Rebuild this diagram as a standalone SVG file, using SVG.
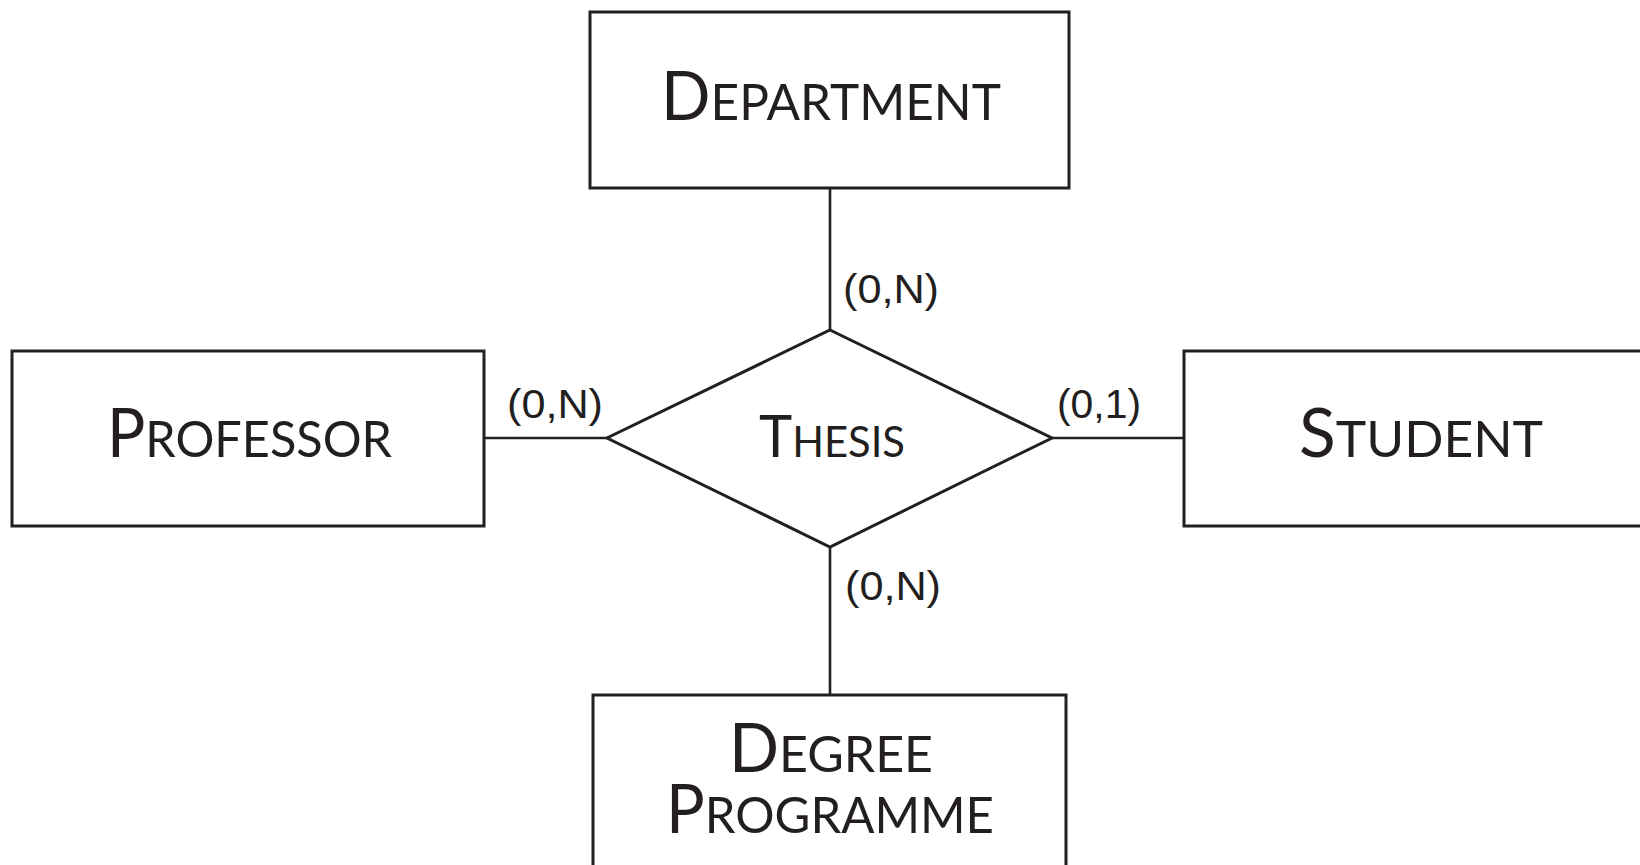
<svg xmlns="http://www.w3.org/2000/svg" width="1640" height="865" viewBox="0 0 1640 865">
<style>
.ent{fill:#fff;stroke:#231f20;stroke-width:3}
.rel{fill:#fff;stroke:#231f20;stroke-width:3;stroke-linejoin:miter}
.ln{stroke:#231f20;stroke-width:2.6;fill:none}
.t{font-family:Lato,"Liberation Sans",sans-serif;fill:#231f20}
.big{font-size:67px}
.sm{font-size:51px}
.tbig{font-size:58px}
.tsm{font-size:43px}
.card{font-family:"Liberation Sans",Arial,sans-serif;font-size:40px;fill:#231f20}
</style>
<rect width="1640" height="865" fill="#fff"/>
<g id="connectors">
<line class="ln" x1="830" y1="188" x2="830" y2="330"/>
<line class="ln" x1="830" y1="547" x2="830" y2="695"/>
<line class="ln" x1="484" y1="438" x2="607" y2="438"/>
<line class="ln" x1="1052" y1="438" x2="1184" y2="438"/>
<text class="card" x="843" y="303" textLength="96" lengthAdjust="spacingAndGlyphs">(0,N)</text>
<text class="card" x="507" y="418" textLength="96" lengthAdjust="spacingAndGlyphs">(0,N)</text>
<text class="card" x="1057" y="418" textLength="84" lengthAdjust="spacingAndGlyphs">(0,1)</text>
<text class="card" x="845" y="600" textLength="96" lengthAdjust="spacingAndGlyphs">(0,N)</text>
</g>
<g id="department">
<rect class="ent" x="590" y="12" width="479" height="176"/>
<text class="t" x="661" y="120" textLength="340" lengthAdjust="spacingAndGlyphs"><tspan class="big">D</tspan><tspan class="sm">EPARTMENT</tspan></text>
</g>
<g id="professor">
<rect class="ent" x="12" y="351" width="472" height="175"/>
<text class="t" x="107" y="457" textLength="285" lengthAdjust="spacingAndGlyphs"><tspan class="big">P</tspan><tspan class="sm">ROFESSOR</tspan></text>
</g>
<g id="student">
<rect class="ent" x="1184" y="351" width="470" height="175"/>
<text class="t" x="1299" y="457" textLength="244" lengthAdjust="spacingAndGlyphs"><tspan class="big">S</tspan><tspan class="sm">TUDENT</tspan></text>
</g>
<g id="thesis">
<polygon class="rel" points="830,330 1052,438 830,547 607,438"/>
<text class="t" x="759" y="457" textLength="146" lengthAdjust="spacingAndGlyphs"><tspan class="tbig">T</tspan><tspan class="tsm">HESIS</tspan></text>
</g>
<g id="degree-programme">
<rect class="ent" x="593" y="695" width="473" height="190"/>
<text class="t" x="729" y="772" textLength="204" lengthAdjust="spacingAndGlyphs"><tspan class="big">D</tspan><tspan class="sm">EGREE</tspan></text>
<text class="t" x="666" y="833" textLength="328" lengthAdjust="spacingAndGlyphs"><tspan class="big">P</tspan><tspan class="sm">ROGRAMME</tspan></text>
</g>
</svg>
